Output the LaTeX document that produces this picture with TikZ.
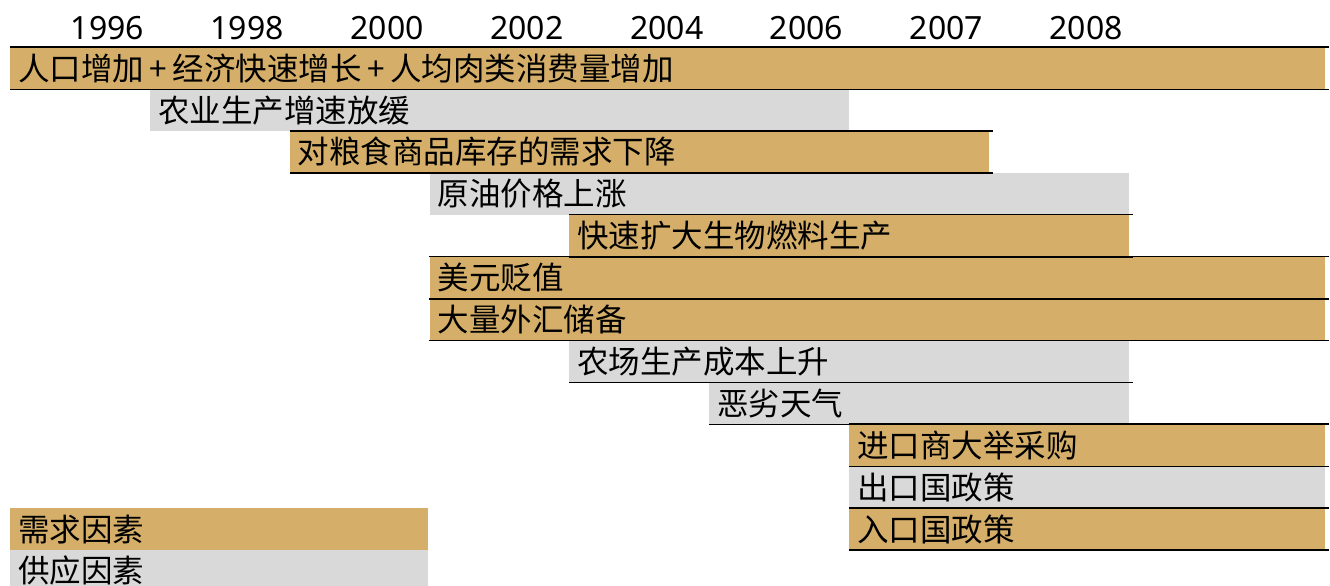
\documentclass[tikz,border=0pt]{standalone}
\usepackage{fontspec}
\setmainfont{Noto Sans CJK SC}
\newfontfamily\yearfont{Noto Sans}
\definecolor{barGold}{HTML}{D5AF69}
\definecolor{barGray}{HTML}{D9D9D9}
\newcommand{\plusgap}{\hspace{5.5pt}+\hspace{5.5pt}}
\begin{document}
\begin{tikzpicture}[x=1pt,y=-1pt,
  barbox/.style={anchor=north west, inner xsep=8pt, inner ysep=0pt,
    minimum height=41.9pt, align=left, text height=24pt, text depth=0pt,
    font=\fontsize{31.5}{36}\selectfont},
  goldbar/.style={barbox, fill=barGold},
  graybar/.style={barbox, fill=barGray},
  rule/.style={line width=1.5pt, black},
  yearlbl/.style={font=\yearfont\fontsize{32}{36}\selectfont, anchor=base}]
\clip (0,0) rectangle (1330,586);
% years
\node[yearlbl] (y1996) at (107.5,39.3) {1996};
\node[yearlbl] (y1998) at (247.3,39.3) {1998};
\node[yearlbl] (y2000) at (387.1,39.3) {2000};
\node[yearlbl] (y2002) at (526.9,39.3) {2002};
\node[yearlbl] (y2004) at (666.7,39.3) {2004};
\node[yearlbl] (y2006) at (806.5,39.3) {2006};
\node[yearlbl] (y2007) at (946.3,39.3) {2007};
\node[yearlbl] (y2008) at (1086.1,39.3) {2008};
% bars
\node[goldbar, text width=1299pt] (b1) at (10,47) {人口增加\plusgap 经济快速增长\plusgap 人均肉类消费量增加};
\node[graybar, text width=683pt] (b2) at (149.8,88.9) {农业生产增速放缓};
\node[goldbar, text width=683pt] (b3) at (289.6,130.8) {对粮食商品库存的需求下降};
\node[graybar, text width=683pt] (b4) at (429.4,172.7) {原油价格上涨};
\node[goldbar, text width=543.2pt] (b5) at (569.2,214.6) {快速扩大生物燃料生产};
\node[goldbar, text width=879.6pt] (b6) at (429.4,256.5) {美元贬值};
\node[goldbar, text width=879.6pt] (b7) at (429.4,298.4) {大量外汇储备};
\node[graybar, text width=543.2pt] (b8) at (569.2,340.3) {农场生产成本上升};
\node[graybar, text width=403.4pt] (b9) at (709,382.2) {恶劣天气};
\node[goldbar, text width=460.2pt] (b10) at (848.8,424.1) {进口商大举采购};
\node[graybar, text width=460.2pt] (b11) at (848.8,466) {出口国政策};
\node[goldbar, text width=460.2pt] (b12) at (848.8,507.9) {入口国政策};
% legend
\node[goldbar, text width=402pt] (lg1) at (10,507.9) {需求因素};
\node[graybar, text width=402pt] (lg2) at (10,549.8) {供应因素};
% rules
\foreach \b in {b1,b3,b5,b6,b7,b10,b12}{
  \draw[rule] (\b.north west) -- ([xshift=4pt]\b.north east);
  \draw[rule] (\b.south west) -- ([xshift=4pt]\b.south east);
}
\foreach \b in {b8,b9}{
  \draw[rule] (\b.south west) -- ([xshift=4pt]\b.south east);
}
\end{tikzpicture}
\end{document}
